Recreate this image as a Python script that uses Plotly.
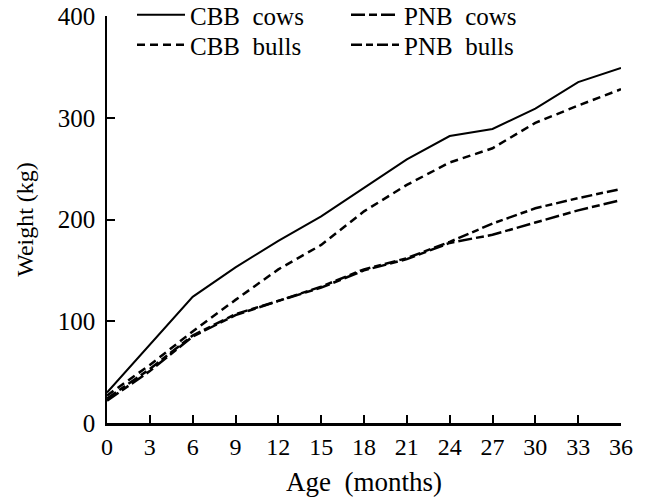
import plotly.graph_objects as go

months = [0, 3, 6, 9, 12, 15, 18, 21, 24, 27, 30, 33, 36]
cbb_cows = [30, 77, 124, 153, 179, 203, 231, 259, 282, 289, 309, 335, 349]
cbb_bulls = [27, 57, 90, 121, 151, 175, 208, 234, 256, 270, 295, 312, 328]
pnb_cows = [22, 51, 85, 106, 120, 133, 150, 161, 177, 185, 197, 209, 219]
pnb_bulls = [24, 53, 86, 107, 120, 134, 151, 162, 178, 196, 211, 221, 230]

x_ticks = list(range(0, 37, 3))
y_ticks = [0, 100, 200, 300, 400]

FONT = "Liberation Serif"
W, H = 648, 499
ML, MR, MT, MB = 107, 27, 16, 76
PW, PH = W - ML - MR, H - MT - MB

fig = go.Figure()
# (name, values, dash, width, legend id, legend left px, legend top px)
series = [
    ("CBB  cows", cbb_cows, "solid", 2, "legend", 132, -8),
    ("PNB  cows", pnb_cows, "14px,4px,8px,4px", 2.5, "legend2", 346, -8),
    ("CBB  bulls", cbb_bulls, "8px,5px", 2.5, "legend3", 132, 22),
    ("PNB  bulls", pnb_bulls, "11px,4px,7px,4px", 2.5, "legend4", 346, 22),
]
legend_cfg = {}
for name, ys, dash, w, lg, lx, ty in series:
    fig.add_trace(go.Scatter(x=months, y=ys, mode="lines", name=name, legend=lg,
                             line=dict(color="black", width=w, dash=dash)))
    legend_cfg[lg] = dict(x=(lx - ML) / PW, y=(H - MB - ty) / PH,
                          xanchor="left", yanchor="top",
                          font=dict(family=FONT, size=25), bgcolor="rgba(0,0,0,0)",
                          itemwidth=48)

fig.update_layout(
    width=W, height=H,
    margin=dict(l=ML, r=MR, t=MT, b=MB, autoexpand=False),
    paper_bgcolor="white", plot_bgcolor="white",
    font=dict(family=FONT, size=24, color="black"),
    showlegend=True,
    **legend_cfg,
    xaxis=dict(range=[0, 36], tickvals=x_ticks, ticks="inside", ticklen=8,
               tickwidth=1.5, tickcolor="black", showline=True, linecolor="black",
               linewidth=2.5, showgrid=False, zeroline=False,
               title=dict(text="Age  (months)", font=dict(family=FONT, size=27), standoff=14),
               tickfont=dict(family=FONT, size=24)),
    yaxis=dict(range=[0, 400], tickvals=y_ticks, ticks="inside", ticklen=8,
               tickwidth=1.5, tickcolor="black", showline=True, linecolor="black",
               linewidth=1.5, showgrid=False, zeroline=False, ticklabelstandoff=5,
               title=dict(text="Weight (kg)", font=dict(family=FONT, size=24), standoff=17),
               tickfont=dict(family=FONT, size=25)),
)

fig.write_html("out.html")
